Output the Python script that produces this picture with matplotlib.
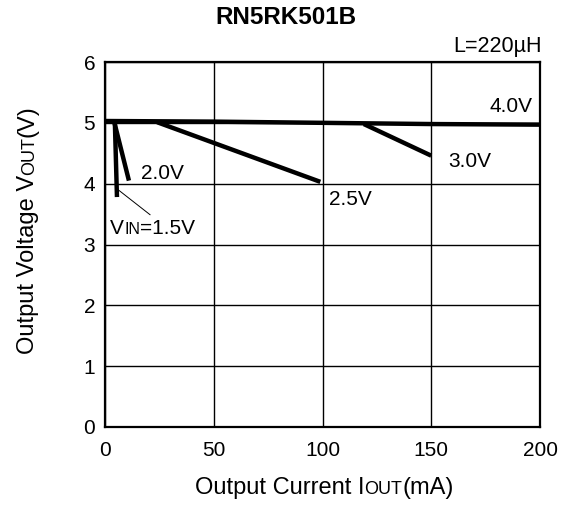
import matplotlib.pyplot as plt
from matplotlib.transforms import IdentityTransform

plt.rcParams['font.family'] = ['Liberation Sans', 'DejaVu Sans']

# curves: output current (mA) vs output voltage (V)
i_40 = [0, 50, 100, 150, 200]
v_40 = [5.03, 5.02, 5.0, 4.98, 4.97]
i_30 = [119, 150]
v_30 = [4.98, 4.46]
i_25 = [24, 99]
v_25 = [5.01, 4.03]
i_20 = [4, 11]
v_20 = [5.05, 4.05]
i_15 = [4.5, 5.5]
v_15 = [5.05, 3.78]

curves = [(i_40, v_40), (i_30, v_30), (i_25, v_25), (i_20, v_20), (i_15, v_15)]

x_ticks = [0, 50, 100, 150, 200]
y_ticks = [0, 1, 2, 3, 4, 5, 6]

W, H = 569, 505
fig = plt.figure(figsize=(W / 100, H / 100), dpi=100)
ax = fig.add_axes([105 / W, 78 / H, 435 / W, 365 / H])

for xs, ys in curves:
    ax.plot(xs, ys, color='black', lw=3.2, solid_capstyle='butt')

ax.set_xlim(0, 200)
ax.set_ylim(0, 6)
ax.set_xticks(x_ticks)
ax.set_yticks(y_ticks)
ax.tick_params(length=0, labelsize=15)
ax.tick_params(axis='x', pad=10)
ax.tick_params(axis='y', pad=7)
ax.grid(True, color='black', lw=1.0)
for s in ax.spines.values():
    s.set_linewidth(1.6)

renderer = fig.canvas.get_renderer()


def mixed_text(x, y, parts, size=14.5, small=11, rotation=0, align='left', gap=0):
    # text with small caps pieces, placed in pixels; parts = [(str, is_small)]
    texts = []
    for s, is_small in parts:
        t = fig.text(0, 0, s, fontsize=small if is_small else size,
                     rotation=rotation, rotation_mode='anchor',
                     ha='left', va='baseline', transform=IdentityTransform())
        texts.append(t)
    lens = []
    for t in texts:
        bb = t.get_window_extent(renderer)
        lens.append((bb.width if rotation == 0 else bb.height) + gap)
    pos = 0 if align == 'left' else -sum(lens) / 2
    for t, n in zip(texts, lens):
        if rotation == 0:
            t.set_position((x + pos, y))
        else:
            t.set_position((x, y + pos))
        pos += n


def data_px(xd, yd):
    return ax.transData.transform((xd, yd))


ax.text(16.4, 4.08, '2.0V', fontsize=15, va='baseline')
px, py = data_px(2.4, 3.17)
mixed_text(px, py, [('V', False), ('IN', True), ('=1.5V', False)], size=15, small=11.5)
ax.plot([6.4, 20.7], [3.89, 3.49], color='black', lw=0.7)
ax.text(103, 3.65, '2.5V', fontsize=15, va='baseline')
ax.text(157.7, 4.27, '3.0V', fontsize=15, va='baseline')
ax.text(176.6, 5.18, '4.0V', fontsize=15, va='baseline')
fig.text(542 / W, 1 - 52 / H, 'L=220µH', fontsize=15.5, ha='right', va='baseline')

mixed_text(324, 11, [('Output Current I', False), ('OUT', True), ('(mA)', False)],
           size=17, small=13, align='center')
mixed_text(34, H - 229.5, [('Output Voltage V', False), ('OUT', True), ('(V)', False)],
           size=17, small=13, rotation=90, align='center')

fig.text(0.502, 1 - 18 / H, 'RN5RK501B', fontsize=17.5, fontweight='bold',
         ha='center', va='center')

fig.savefig('out.png', dpi=100)
